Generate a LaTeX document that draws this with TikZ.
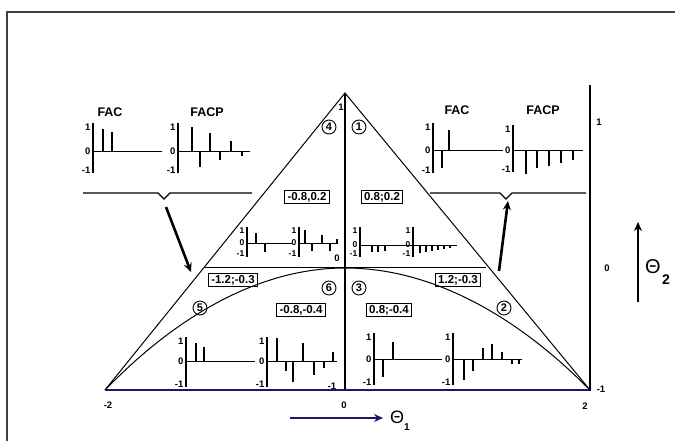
\documentclass[tikz,border=0pt]{standalone}
\usepackage{fontspec}
\setmainfont{Liberation Sans}
\usetikzlibrary{arrows.meta}
\definecolor{navyc}{RGB}{25,25,105}
\newcommand\mplot[8]{% #1 axis x, #2 top, #3 zero, #4 bottom, #5 end x, #6 spikes, #7 name, #8 label font
  \draw[plotax] (#1,#2) -- (#1,#4);
  \draw[plotzero] (#1,#3) -- (#5,#3);
  \foreach \sx/\sy in {#6} \draw[spike] (\sx,#3) -- (\sx,{#3+(\sy)});
  \node[ticklab,font=#8] (#7p) at (#1-2,#2+4) {1};
  \node[ticklab,font=#8] (#7z) at (#1-2,#3) {0};
  \node[ticklab,font=#8] (#7m) at (#1-2,#4-3) {-1};
}
\begin{document}
\begin{tikzpicture}[x=1pt,y=-1pt,
  frame/.style={line width=1.6pt, draw=black!75},
  tri/.style={line width=1pt, draw=black},
  plotax/.style={line width=1.4pt},
  plotzero/.style={line width=1pt},
  spike/.style={line width=1.1pt},
  ticklab/.style={anchor=east, inner sep=0.5pt},
  title/.style={font=\fontsize{12.5}{13}\selectfont\bfseries, inner sep=0pt},
  valbox/.style={draw, line width=1pt, font=\fontsize{11.5}{12}\selectfont\bfseries, inner xsep=3pt, inner ysep=1.5pt},
  circnum/.style={circle, draw, line width=0.9pt, inner sep=0pt, minimum size=14pt, font=\fontsize{11}{11}\selectfont\bfseries},
  axlab/.style={font=\fontsize{9.5}{10}\selectfont\bfseries, inner sep=0.5pt},
  bigarrow/.style={line width=2.6pt, -{Stealth[length=9pt,width=8pt]}},
]
\useasboundingbox (0,0) rectangle (675,440);
\fill[white] (0,0) rectangle (675,440);
% frame
\draw[frame] (676,12) -- (7,12) -- (7,441);
% main geometry
\coordinate (A) at (345,93);
\coordinate (L) at (105,390);
\coordinate (R) at (590,390);
\coordinate (C0) at (345,390);
\coordinate (HL) at (205,267);
\coordinate (HR) at (486,267);
\coordinate (B) at (345,268);
\draw[tri] (L) -- (A) -- (R);
\draw[line width=1.3pt] (A) -- (C0);
\draw[tri] (HL) -- (HR);
\draw[tri] (L) parabola bend (B) (R);
\draw[navyc, line width=1.8pt] (L) -- (R);
\coordinate (RAt) at (590,85);
\coordinate (RAb) at (590,391);
\draw[line width=1.3pt] (RAt) -- (RAb);
% axis labels
\node[axlab] (xm2) at (108,405) {-2};
\node[axlab] (x0) at (344,405) {0};
\node[axlab] (x2) at (585,406) {2};
\node[axlab] (y1) at (599,122) {1};
\node[axlab] (y0) at (607,268) {0};
\node[axlab] (ym1) at (601,389) {-1};
\node[axlab] (c1) at (341,107) {1};
\node[axlab] (c0) at (337,258) {0};
\node[axlab] (cm1) at (332,386) {-1};
% circled numbers
\node[circnum] (n4) at (329,127) {4};
\node[circnum] (n1) at (359,127) {1};
\node[circnum] (n6) at (329,288) {6};
\node[circnum] (n3) at (359,288) {3};
\node[circnum] (n5) at (200,308) {5};
\node[circnum] (n2) at (504,308) {2};
% value boxes
\node[valbox] (b1) at (307,197) {-0.8,0.2};
\node[valbox] (b2) at (382,197) {0.8;0.2};
\node[valbox] (b3) at (233,280) {-1.2;-0.3};
\node[valbox] (b4) at (458,280) {1.2;-0.3};
\node[valbox] (b5) at (301,310) {-0.8,-0.4};
\node[valbox] (b6) at (389,310) {0.8;-0.4};
% titles
\node[title] (t1) at (110,112) {FAC};
\node[title] (t2) at (207,112) {FACP};
\node[title] (t3) at (457,110) {FAC};
\node[title] (t4) at (543,110) {FACP};
% correlograms
\mplot{93}{123}{151}{173}{162}{103/-22,112/-19}{pa}{\fontsize{9.5}{10}\selectfont\bfseries}
\mplot{178}{123}{151}{173}{250}{192/-24,200/16,210/-18,220/9,231/-10,242/5}{pb}{\fontsize{9.5}{10}\selectfont\bfseries}
\mplot{433}{123}{150}{173}{503}{442/18,449/-20}{pc}{\fontsize{9.5}{10}\selectfont\bfseries}
\mplot{513}{125}{150}{172}{583}{526/24,537/18,549/16,561/13,573/10}{pd}{\fontsize{9.5}{10}\selectfont\bfseries}
\mplot{247}{227}{243}{257}{293}{256/-10,265/9}{pe}{\fontsize{8.5}{9}\selectfont\bfseries}
\mplot{299}{227}{243}{257}{338}{305/-13,312/8,322/-8,330/8,337/-4}{pf}{\fontsize{8.5}{9}\selectfont\bfseries}
\mplot{360}{227}{245}{257}{412}{372/7,378/7,385/6}{pg}{\fontsize{8.5}{9}\selectfont\bfseries}
\mplot{413}{227}{245}{257}{457}{420/8,426/7,432/6,438/5,444/4,450/3}{ph}{\fontsize{8.5}{9}\selectfont\bfseries}
\mplot{186}{337}{361}{387}{255}{196/-18,204/-14}{pi}{\fontsize{9.5}{10}\selectfont\bfseries}
\mplot{267}{337}{361}{387}{337}{277/-23,286/10,293/21,303/-18,314/14,324/7,333/-9}{pj}{\fontsize{9.5}{10}\selectfont\bfseries}
\mplot{374}{333}{359}{385}{442}{383/18,393/-17}{pk}{\fontsize{9.5}{10}\selectfont\bfseries}
\mplot{453}{333}{359}{385}{522}{464/21,473/12,483/-11,492/-15,502/-7,512/5,519/5}{pl}{\fontsize{9.5}{10}\selectfont\bfseries}
% brackets
\coordinate (lb1) at (83,193);
\coordinate (lbv) at (164,199);
\coordinate (lb2) at (252,193);
\draw[tri, line width=1.2pt] (lb1) -- (158,193) -- (lbv) -- (170,193) -- (lb2);
\coordinate (rb1) at (430,193);
\coordinate (rbv) at (506,199);
\coordinate (rb2) at (586,193);
\draw[tri, line width=1.2pt] (rb1) -- (500,193) -- (rbv) -- (512,193) -- (rb2);
% thick arrows
\coordinate (la1) at (166,207);
\coordinate (la2) at (191,272);
\draw[bigarrow] (la1) -- (la2);
\coordinate (ra1) at (499,271);
\coordinate (ra2) at (508,201);
\draw[bigarrow] (ra1) -- (ra2);
% theta arrows
\coordinate (th1a) at (290,418);
\coordinate (th1b) at (383,418);
\draw[navyc, line width=2.8pt, -{Stealth[length=9pt,width=8pt]}] (th1a) -- (th1b);
\node[inner sep=0pt, font=\fontsize{18}{18}\selectfont] (T1) at (397,417) {Θ};
\node[inner sep=0pt, font=\fontsize{10}{10}\selectfont\bfseries] (T1s) at (407,427) {1};
\coordinate (th2a) at (638,302);
\coordinate (th2b) at (638,222);
\draw[line width=2.6pt, -{Stealth[length=9pt,width=8pt]}] (th2a) -- (th2b);
\node[inner sep=0pt, font=\fontsize{20}{20}\selectfont] (T2) at (653,267) {Θ};
\node[inner sep=0pt, font=\fontsize{14}{14}\selectfont\bfseries] (T2s) at (666,280) {2};
\end{tikzpicture}
\end{document}
